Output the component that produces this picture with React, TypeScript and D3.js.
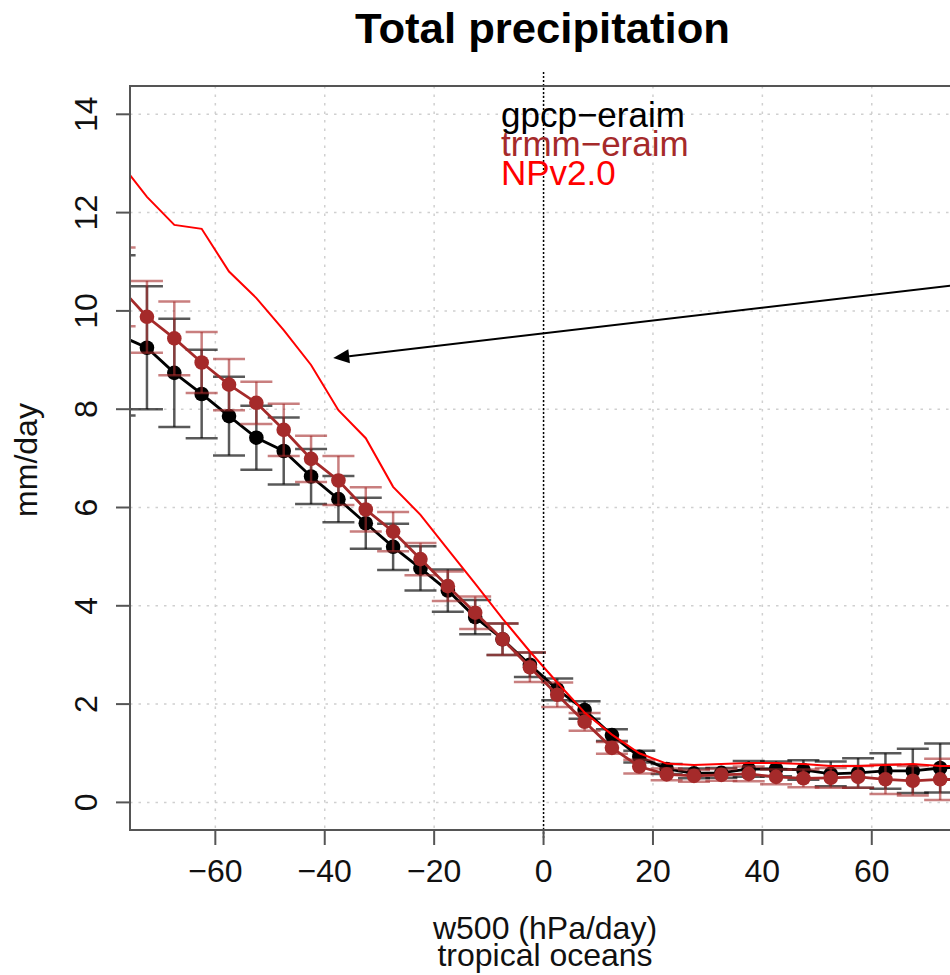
import React from "react";
import * as d3 from "d3";

// w500 bin centres (hPa/day)
const w500 = [-77.5, -72.5, -67.5, -62.5, -57.5, -52.5, -47.5, -42.5, -37.5, -32.5, -27.5, -22.5, -17.5, -12.5, -7.5, -2.5, 2.5, 7.5, 12.5, 17.5, 22.5, 27.5, 32.5, 37.5, 42.5, 47.5, 52.5, 57.5, 62.5, 67.5, 72.5, 77.5];

// gpcp-eraim mean and half error bar (mm/day)
const gpcpMean = [9.5, 9.25, 8.74, 8.31, 7.86, 7.42, 7.15, 6.63, 6.17, 5.68, 5.2, 4.76, 4.31, 3.77, 3.32, 2.8, 2.3, 1.88, 1.37, 0.93, 0.68, 0.59, 0.6, 0.68, 0.68, 0.66, 0.58, 0.6, 0.64, 0.64, 0.7, 0.72];
const gpcpErr = [1.63, 1.25, 1.1, 0.9, 0.8, 0.65, 0.68, 0.56, 0.47, 0.52, 0.47, 0.45, 0.43, 0.35, 0.32, 0.25, 0.22, 0.18, 0.12, 0.12, 0.1, 0.1, 0.1, 0.16, 0.15, 0.2, 0.25, 0.3, 0.36, 0.45, 0.5, 0.52];

// trmm-eraim mean and half error bar (mm/day)
const trmmMean = [10.49, 9.88, 9.44, 8.95, 8.5, 8.13, 7.58, 6.99, 6.55, 5.96, 5.51, 4.95, 4.4, 3.86, 3.32, 2.75, 2.19, 1.64, 1.11, 0.73, 0.57, 0.54, 0.56, 0.58, 0.52, 0.49, 0.5, 0.52, 0.47, 0.44, 0.47, 0.46];
const trmmErr = [0.8, 0.73, 0.75, 0.62, 0.52, 0.43, 0.53, 0.47, 0.5, 0.45, 0.4, 0.33, 0.3, 0.33, 0.32, 0.3, 0.25, 0.18, 0.12, 0.14, 0.12, 0.12, 0.12, 0.15, 0.15, 0.18, 0.2, 0.22, 0.3, 0.3, 0.42, 0.42];

// NPv2.0 model (mm/day)
const npv2 = [13.03, 12.32, 11.75, 11.67, 10.8, 10.26, 9.61, 8.9, 7.98, 7.41, 6.42, 5.85, 5.15, 4.45, 3.74, 3.07, 2.44, 1.83, 1.38, 1.0, 0.79, 0.76, 0.78, 0.8, 0.8, 0.78, 0.74, 0.74, 0.76, 0.78, 0.74, 0.74];

const xTicks = [-60, -40, -20, 0, 20, 40, 60];
const yTicks = [0, 2, 4, 6, 8, 10, 12, 14];

const legendLabels = ["gpcp\u2212eraim", "trmm\u2212eraim", "NPv2.0"];

// annotation arrow: tail and tip in data units
const arrowTail = [100, 10.85];
const arrowTip = [-38.45, 9.04];

const W = 950;
const H = 975;
const left = 130;
const top = 86;
const bottom = 830;
const right = 1100;

const BLACK = "#000000";
const BROWN = "#A52A2A";
const RED = "#FF0000";
const FONT = "'Liberation Sans', Arial, Helvetica, sans-serif";

export default function App() {
  const x = d3.scaleLinear().domain([-75.6, 74.3]).range([left, 950]);
  const y = d3.scaleLinear().domain([0, 14]).range([802.4, 114.3]);

  const line = (vals: number[]) =>
    d3
      .line<number>()
      .x((_, i) => x(w500[i]))
      .y((v) => y(v))(vals) as string;

  const series = [
    { mean: gpcpMean, err: gpcpErr, color: BLACK, errOpacity: 0.65 },
    { mean: trmmMean, err: trmmErr, color: BROWN, errOpacity: 0.6 },
  ];

  const cap = 16;

  // arrow geometry
  const tx = x(arrowTip[0]);
  const ty = y(arrowTip[1]);
  const sx = x(arrowTail[0]);
  const sy = y(arrowTail[1]);
  const ang = Math.atan2(ty - sy, tx - sx);
  const headLen = 16;
  const headW = 7;
  const bx = tx - headLen * Math.cos(ang);
  const by = ty - headLen * Math.sin(ang);
  const px = -Math.sin(ang);
  const py = Math.cos(ang);
  const head = `${tx},${ty} ${bx + px * headW},${by + py * headW} ${bx - px * headW},${by - py * headW}`;

  return (
    <svg
      width={W}
      height={H}
      style={{ position: "absolute", left: 0, top: 0, background: "#fff" }}
      fontFamily={FONT}
    >
      <defs>
        <clipPath id="plotClip">
          <rect x={left} y={top} width={right - left} height={bottom - top} />
        </clipPath>
      </defs>
      <rect x={0} y={0} width={W} height={H} fill="#fff" />

      {/* title */}
      <text
        x={542.5}
        y={43}
        textAnchor="middle"
        fontSize={43}
        fontWeight="bold"
        textLength={375}
        lengthAdjust="spacingAndGlyphs"
      >
        Total precipitation
      </text>

      {/* grid */}
      <g stroke="#d0d0d0" strokeWidth={1.5} strokeDasharray="2.5,6">
        {yTicks.map((t) => (
          <line key={"gy" + t} x1={left} x2={right} y1={y(t)} y2={y(t)} />
        ))}
        {xTicks.map((t) => (
          <line key={"gx" + t} x1={x(t)} x2={x(t)} y1={top} y2={bottom} />
        ))}
      </g>

      {/* data */}
      <g clipPath="url(#plotClip)">
        {series.map((s, si) => (
          <g key={"s" + si}>
            <g stroke={s.color} strokeOpacity={s.errOpacity} strokeWidth={2.5}>
              {w500.map((w, i) => {
                const cx = x(w);
                const y1 = y(s.mean[i] + s.err[i]);
                const y2 = y(s.mean[i] - s.err[i]);
                return (
                  <g key={i}>
                    <line x1={cx} x2={cx} y1={y1} y2={y2} />
                    <line x1={cx - cap} x2={cx + cap} y1={y1} y2={y1} />
                    <line x1={cx - cap} x2={cx + cap} y1={y2} y2={y2} />
                  </g>
                );
              })}
            </g>
            <path d={line(s.mean)} fill="none" stroke={s.color} strokeWidth={2.8} />
            {w500.map((w, i) => (
              <circle key={"p" + i} cx={x(w)} cy={y(s.mean[i])} r={7.3} fill={s.color} />
            ))}
          </g>
        ))}
        <path d={line(npv2)} fill="none" stroke={RED} strokeWidth={2} />
      </g>

      {/* zero line */}
      <line
        x1={x(0)}
        x2={x(0)}
        y1={72}
        y2={838}
        stroke="#000"
        strokeWidth={1.5}
        strokeDasharray="2,2"
      />

      {/* arrow */}
      <line x1={sx} y1={sy} x2={bx} y2={by} stroke="#000" strokeWidth={2} />
      <polygon points={head} fill="#000" />

      {/* box */}
      <rect
        x={left}
        y={top}
        width={right - left}
        height={bottom - top}
        fill="none"
        stroke="#555"
        strokeWidth={2}
      />

      {/* y axis */}
      <g>
        {yTicks.map((t) => (
          <g key={"yt" + t}>
            <line x1={left - 14} x2={left} y1={y(t)} y2={y(t)} stroke="#555" strokeWidth={2} />
            <text
              transform={`translate(97,${y(t)}) rotate(-90)`}
              textAnchor="middle"
              fontSize={32}
              fill="#111"
            >
              {t}
            </text>
          </g>
        ))}
      </g>

      {/* x axis */}
      <g>
        {xTicks.map((t) => (
          <g key={"xt" + t}>
            <line x1={x(t)} x2={x(t)} y1={bottom} y2={bottom + 15} stroke="#555" strokeWidth={2} />
            <text x={x(t)} y={882} textAnchor="middle" fontSize={32} fill="#111">
              {t < 0 ? "\u2212" + Math.abs(t) : String(t)}
            </text>
          </g>
        ))}
      </g>

      {/* axis titles */}
      <text x={545} y={939} textAnchor="middle" fontSize={32} fill="#111">
        w500 (hPa/day)
      </text>
      <text x={545} y={966} textAnchor="middle" fontSize={32} fill="#111">
        tropical oceans
      </text>
      <text transform="translate(37,460) rotate(-90)" textAnchor="middle" fontSize={32} fill="#111">
        mm/day
      </text>

      {/* legend */}
      {legendLabels.map((l, i) => (
        <text
          key={l}
          x={501}
          y={127 + i * 29}
          fontSize={35}
          fill={[BLACK, BROWN, RED][i]}
        >
          {l}
        </text>
      ))}
    </svg>
  );
}
